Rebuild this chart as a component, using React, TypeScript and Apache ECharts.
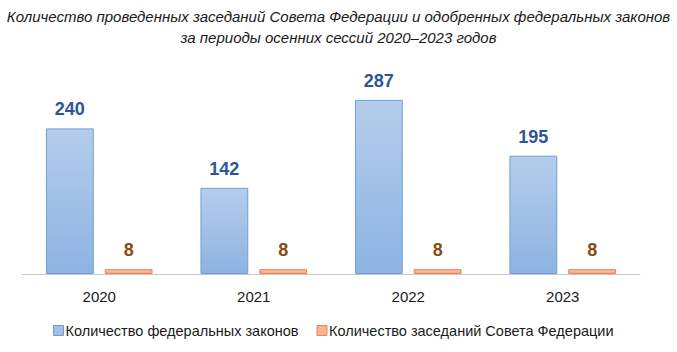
import React, { useEffect, useRef } from "react";
import * as echarts from "echarts";

const categories = ["2020", "2021", "2022", "2023"];
const lawsValues = [240, 142, 287, 195];
const sessionsValues = [8, 8, 8, 8];
const seriesNames = ["Количество федеральных законов", "Количество заседаний Совета Федерации"];
const titleLines = [
  "Количество проведенных заседаний Совета Федерации и одобренных федеральных законов",
  "за периоды осенних сессий 2020–2023 годов",
];

const FONT = "'Liberation Sans', Arial, sans-serif";

export default function App() {
  const ref = useRef<HTMLDivElement>(null);
  useEffect(() => {
    if (!ref.current) return;
    const chart = echarts.init(ref.current, undefined, { renderer: "svg" });
    chart.setOption({
      animation: false,
      backgroundColor: "#ffffff",
      title: {
        text: titleLines.join("\n"),
        left: "center",
        top: 1,
        textStyle: {
          fontFamily: FONT,
          fontStyle: "italic",
          fontWeight: "normal",
          fontSize: 15,
          lineHeight: 21,
          color: "#1a1a1a",
        },
      },
      legend: {
        top: 318,
        left: 48,
        itemWidth: 10,
        itemHeight: 10,
        itemGap: 18,
        textStyle: { fontFamily: FONT, fontSize: 14.5, color: "#1a1a1a", padding: [0, 0, 0, -3] },
        data: [
          { name: seriesNames[0], icon: "rect", itemStyle: { color: "#a3c1e8", borderColor: "#6f9fd8", borderWidth: 1 } },
          { name: seriesNames[1], icon: "rect", itemStyle: { color: "#f6b497", borderColor: "#e8835a", borderWidth: 1 } },
        ],
      },
      grid: { left: 22, right: 37, top: 92, bottom: 78, containLabel: false },
      xAxis: {
        type: "category",
        data: categories,
        axisLine: { show: true, lineStyle: { color: "#c8c8c8", width: 1 } },
        axisTick: { show: false },
        axisLabel: { fontFamily: FONT, fontSize: 15, color: "#1a1a1a", margin: 15 },
      },
      yAxis: {
        type: "value",
        min: 0,
        max: 300,
        show: false,
        splitLine: { show: false },
      },
      series: [
        {
          name: seriesNames[0],
          type: "bar",
          data: lawsValues,
          barGap: "23%",
          barCategoryGap: "31%",
          itemStyle: {
            color: new echarts.graphic.LinearGradient(0, 0, 0, 1, [
              { offset: 0, color: "#b5cdeb" },
              { offset: 1, color: "#8db3e2" },
            ]),
            borderColor: "#6f9fd8",
            borderWidth: 1,
          },
          label: {
            show: true,
            position: "top",
            distance: 10,
            fontFamily: FONT,
            fontWeight: "bold",
            fontSize: 18,
            color: "#2f5597",
          },
        },
        {
          name: seriesNames[1],
          type: "bar",
          data: sessionsValues,
          itemStyle: {
            color: new echarts.graphic.LinearGradient(0, 0, 0, 1, [
              { offset: 0, color: "#f9c2a6" },
              { offset: 1, color: "#f4a683" },
            ]),
            borderColor: "#e8835a",
            borderWidth: 1,
          },
          label: {
            show: true,
            position: "top",
            distance: 10,
            fontFamily: FONT,
            fontWeight: "bold",
            fontSize: 18,
            color: "#8a4a10",
          },
        },
      ],
    });
    return () => chart.dispose();
  }, []);
  return (
    <div
      ref={ref}
      style={{ position: "absolute", left: 0, top: 0, width: 677, height: 352 }}
    />
  );
}
